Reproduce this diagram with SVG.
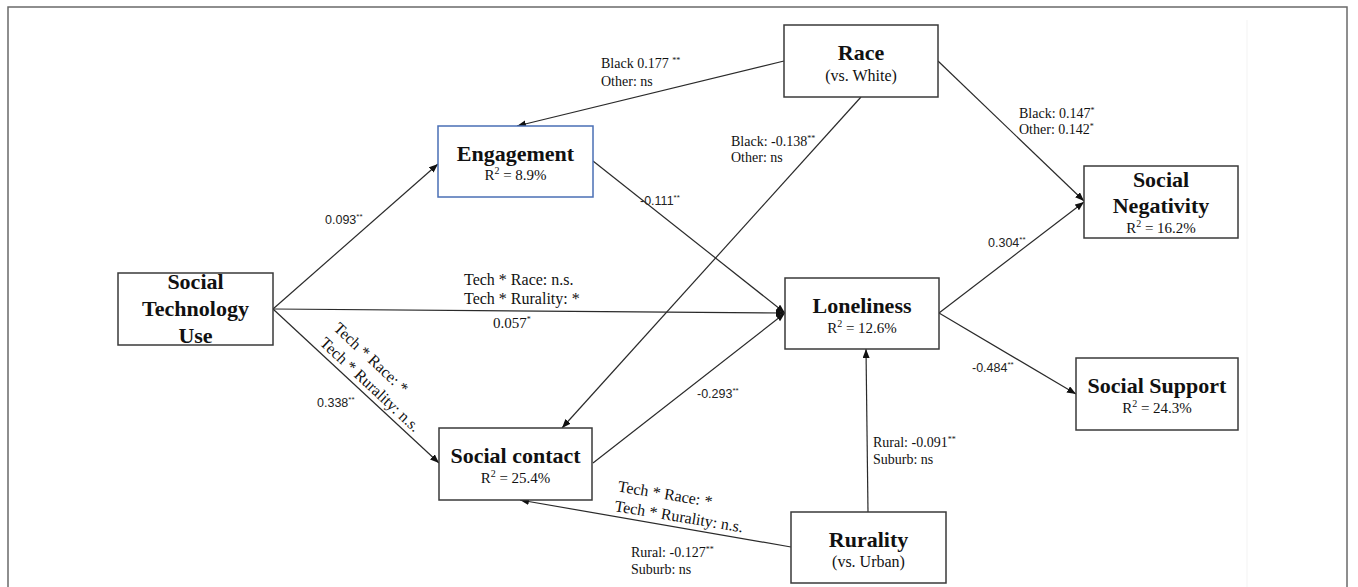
<svg xmlns="http://www.w3.org/2000/svg" width="1358" height="587" viewBox="0 0 1358 587">
<style>
.box{fill:#fff;stroke:#3a3a3a;stroke-width:1.5}
.blue{stroke:#4a6fb5}
.t{font-family:"Liberation Serif","Times New Roman",serif;fill:#111}
.h{font-weight:bold;font-size:22px;text-anchor:middle}
.r2{font-size:15px;text-anchor:middle}
.sub{font-size:16px;text-anchor:middle}
.lab{font-size:14px}
.rot{font-size:16px}
.s{font-family:"Liberation Sans",Arial,sans-serif;font-size:12.5px;fill:#222}
.sup{font-size:8px}
.c{fill:none;stroke:#2a2a2a;stroke-width:1.2;marker-end:url(#ah)}
</style>
<defs>
<marker id="ah" markerUnits="userSpaceOnUse" markerWidth="10" markerHeight="8" refX="9" refY="3.5" orient="auto">
<path d="M0,0 L9,3.5 L0,7 z" fill="#111"/>
</marker>
</defs>
<rect x="0" y="0" width="1358" height="587" fill="#fff"/>
<rect x="8" y="7" width="1339" height="600" fill="none" stroke="#6a6a6a" stroke-width="1.5"/>
<line x1="1247" y1="20" x2="1247" y2="587" stroke="#f3f3f3" stroke-width="1"/>

<g id="connectors">
<line class="c" x1="273" y1="309" x2="438" y2="164"/>
<line class="c" x1="784" y1="61" x2="517" y2="126"/>
<line class="c" x1="861" y1="97" x2="562" y2="428"/>
<line class="c" x1="593" y1="161" x2="785" y2="313"/>
<line class="c" x1="273" y1="309" x2="785" y2="313"/>
<line class="c" x1="593" y1="463" x2="785" y2="313"/>
<line class="c" x1="273" y1="309" x2="439" y2="463"/>
<line class="c" x1="938" y1="61" x2="1084" y2="201"/>
<line class="c" x1="939" y1="313" x2="1084" y2="202"/>
<line class="c" x1="939" y1="313" x2="1076" y2="394"/>
<line class="c" x1="868" y1="512" x2="866" y2="349"/>
<line class="c" x1="791" y1="547" x2="520" y2="500"/>
</g>

<g id="labels">
<text class="s" x="325" y="224">0.093<tspan class="sup" dy="-5">**</tspan></text>
<text class="t lab" x="601" y="68">Black 0.177 <tspan class="sup" dy="-5">**</tspan></text>
<text class="t lab" x="601" y="86">Other: ns</text>
<text class="t lab" x="731" y="146">Black: -0.138<tspan class="sup" dy="-5">**</tspan></text>
<text class="t lab" x="731" y="162">Other: ns</text>
<text class="s" x="640" y="205">-0.111<tspan class="sup" dy="-5">**</tspan></text>
<text class="t lab" x="1019" y="118">Black: 0.147<tspan class="sup" dy="-5">*</tspan></text>
<text class="t lab" x="1019" y="134">Other: 0.142<tspan class="sup" dy="-5">*</tspan></text>
<text class="s" x="988" y="247">0.304<tspan class="sup" dy="-5">**</tspan></text>
<text class="s" x="972" y="372">-0.484<tspan class="sup" dy="-5">**</tspan></text>
<text class="t rot" x="464" y="285">Tech * Race: n.s.</text>
<text class="t rot" x="464" y="304">Tech * Rurality: *</text>
<text class="t" font-size="15" x="493" y="328">0.057<tspan class="sup" dy="-6">*</tspan></text>
<g transform="translate(319,344) rotate(43)">
<text class="t rot" x="0" y="-20">Tech * Race: *</text>
<text class="t rot" x="0" y="0">Tech * Rurality: n.s.</text>
</g>
<text class="s" x="317" y="407">0.338<tspan class="sup" dy="-5">**</tspan></text>
<text class="s" x="697" y="398">-0.293<tspan class="sup" dy="-5">**</tspan></text>
<text class="t lab" x="873" y="447">Rural: -0.091<tspan class="sup" dy="-5">**</tspan></text>
<text class="t lab" x="873" y="464">Suburb: ns</text>
<g transform="translate(614,511) rotate(9.5)">
<text class="t rot" x="0" y="-20">Tech * Race: *</text>
<text class="t rot" x="0" y="0">Tech * Rurality: n.s.</text>
</g>
<text class="t lab" x="631" y="557">Rural: -0.127<tspan class="sup" dy="-5">**</tspan></text>
<text class="t lab" x="631" y="574">Suburb: ns</text>
</g>

<g id="race">
<rect class="box" x="784" y="25" width="154" height="72"/>
<text class="t h" font-size="23" x="861" y="60">Race</text>
<text class="t sub" x="861" y="81">(vs. White)</text>
</g>
<g id="engagement">
<rect class="box blue" x="438" y="126" width="155" height="71"/>
<text class="t h" x="515.5" y="161">Engagement</text>
<text class="t r2" x="515.5" y="180">R<tspan font-size="10" dy="-6">2</tspan><tspan dy="6"> = 8.9%</tspan></text>
</g>
<g id="social-negativity">
<rect class="box" x="1084" y="166" width="154" height="72"/>
<text class="t h" x="1161" y="187">Social</text>
<text class="t h" x="1161" y="213">Negativity</text>
<text class="t r2" x="1161" y="233">R<tspan font-size="10" dy="-6">2</tspan><tspan dy="6"> = 16.2%</tspan></text>
</g>
<g id="social-technology-use">
<rect class="box" x="118" y="273" width="155" height="72"/>
<text class="t h" x="195.5" y="289">Social</text>
<text class="t h" x="195.5" y="316">Technology</text>
<text class="t h" x="195.5" y="343">Use</text>
</g>
<g id="loneliness">
<rect class="box" x="785" y="278" width="154" height="71"/>
<text class="t h" x="862" y="313">Loneliness</text>
<text class="t r2" x="862" y="333">R<tspan font-size="10" dy="-6">2</tspan><tspan dy="6"> = 12.6%</tspan></text>
</g>
<g id="social-support">
<rect class="box" x="1076" y="358" width="162" height="72"/>
<text class="t h" x="1157" y="393">Social Support</text>
<text class="t r2" x="1157" y="413">R<tspan font-size="10" dy="-6">2</tspan><tspan dy="6"> = 24.3%</tspan></text>
</g>
<g id="social-contact">
<rect class="box" x="439" y="428" width="153" height="72"/>
<text class="t h" x="515.5" y="463">Social contact</text>
<text class="t r2" x="515.5" y="483">R<tspan font-size="10" dy="-6">2</tspan><tspan dy="6"> = 25.4%</tspan></text>
</g>
<g id="rurality">
<rect class="box" x="791" y="512" width="155" height="71"/>
<text class="t h" font-size="23" x="868.5" y="547">Rurality</text>
<text class="t sub" x="868.5" y="567">(vs. Urban)</text>
</g>
</svg>
